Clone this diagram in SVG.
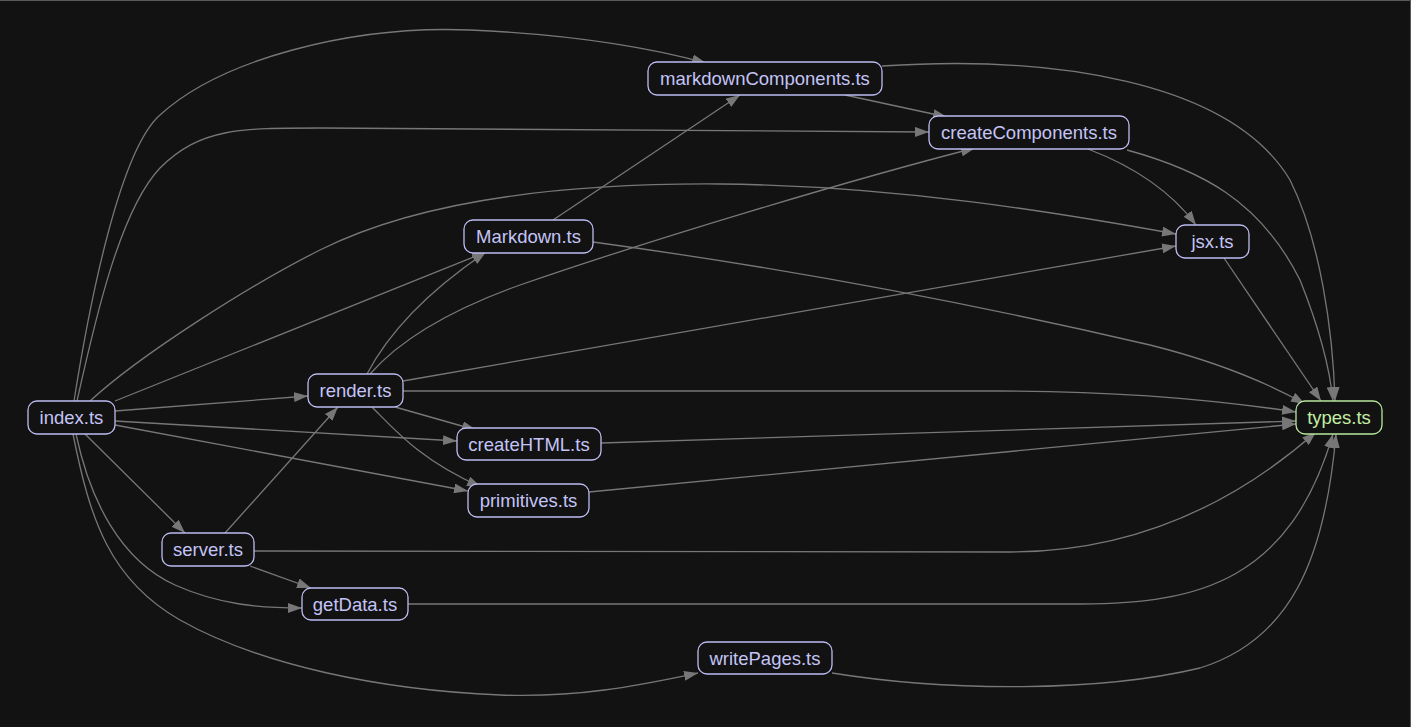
<svg xmlns="http://www.w3.org/2000/svg" width="1411" height="727" viewBox="0 0 1411 727">
<defs>
<marker id="ah" markerUnits="userSpaceOnUse" markerWidth="14" markerHeight="10" refX="14" refY="5" orient="auto"><path d="M0,0 L14,5 L0,10 z" fill="#777777"/></marker>
<style>
.n rect{fill:#121212;stroke:#bcbcf2;stroke-width:1.3}
.n text{fill:#c4c4f6;font-family:"Liberation Sans",Arial,sans-serif;font-size:18.5px;text-anchor:middle}
.t rect{stroke:#b8e6a0}
.t text{fill:#c2eea4}
#edges path{fill:none;stroke:#777777;stroke-width:1.3;marker-end:url(#ah)}
</style>
</defs>
<rect width="1411" height="727" fill="#121212"/>
<path d="M0,0.5 H1410.5 V727" fill="none" stroke="#5a5a5a" stroke-width="1"/>
<g id="edges">
<path d="M74,401 C90,300 120,150 160,115 C220,60 350,25 470,30 C560,34 640,45 706,63"/>
<path d="M77,401 C95,320 120,210 160,168 C200,128 240,128 320,128 L929,132"/>
<path d="M90,401 C140,355 250,285 320,250 C420,200 560,183 720,184 C900,186 1060,213 1176,234"/>
<path d="M115,401 L486,252"/>
<path d="M115,411 L308,396"/>
<path d="M115,421 L457,441"/>
<path d="M115,425 L468,491"/>
<path d="M85,434 L185,533"/>
<path d="M76,434 C90,500 120,560 175,585 C220,605 260,608 302,608"/>
<path d="M73,434 C90,520 110,580 180,620 C260,665 380,690 500,695 C580,698 640,685 698,673"/>
<path d="M367,374 C390,330 430,290 486,252"/>
<path d="M370,374 C400,340 450,310 520,285 C650,240 850,180 975,148"/>
<path d="M403,381 L1176,246"/>
<path d="M403,391 L1000,391 C1150,391 1250,405 1296,412"/>
<path d="M395,407 L476,430"/>
<path d="M372,407 C395,430 420,460 481,487"/>
<path d="M225,533 L338,407"/>
<path d="M250,566 L311,588"/>
<path d="M254,551 L1010,552 C1150,552 1250,490 1316,432"/>
<path d="M408,604 L1080,604 C1200,604 1290,580 1333,434"/>
<path d="M832,673 C950,692 1100,692 1200,668 C1290,640 1325,560 1336,434"/>
<path d="M553,220 L740,95"/>
<path d="M593,242 C800,270 1000,310 1150,345 C1230,365 1280,390 1305,404"/>
<path d="M845,95 L947,117"/>
<path d="M882,66 C1050,55 1230,80 1290,180 C1320,240 1333,330 1335,401"/>
<path d="M1088,149 C1130,165 1170,190 1196,225"/>
<path d="M1127,150 C1200,170 1260,200 1300,280 C1320,330 1330,370 1333,401"/>
<path d="M1224,258 L1321,401"/>
<path d="M601,443 L1296,421"/>
<path d="M589,492 L1296,424"/>
</g>
<g id="index" class="n"><rect x="28" y="401" width="87" height="33" rx="9"/><text x="71.5" y="424">index.ts</text></g>
<g id="render" class="n"><rect x="308" y="374" width="95" height="33" rx="9"/><text x="355.5" y="397">render.ts</text></g>
<g id="server" class="n"><rect x="162" y="533" width="92" height="33" rx="9"/><text x="208" y="556">server.ts</text></g>
<g id="getData" class="n"><rect x="302" y="588" width="106" height="32" rx="9"/><text x="355" y="610.5">getData.ts</text></g>
<g id="Markdown" class="n"><rect x="464" y="220" width="129" height="33" rx="9"/><text x="528.5" y="243">Markdown.ts</text></g>
<g id="createHTML" class="n"><rect x="457" y="428" width="144" height="32" rx="9"/><text x="529" y="450.5">createHTML.ts</text></g>
<g id="primitives" class="n"><rect x="468" y="484" width="121" height="33" rx="9"/><text x="528.5" y="507">primitives.ts</text></g>
<g id="writePages" class="n"><rect x="698" y="642" width="134" height="32" rx="9"/><text x="765" y="664.5">writePages.ts</text></g>
<g id="markdownComponents" class="n"><rect x="648" y="62" width="234" height="33" rx="9"/><text x="765" y="85">markdownComponents.ts</text></g>
<g id="createComponents" class="n"><rect x="929" y="116" width="200" height="33" rx="9"/><text x="1029" y="139">createComponents.ts</text></g>
<g id="jsx" class="n"><rect x="1176" y="225" width="73" height="33" rx="9"/><text x="1212.5" y="248">jsx.ts</text></g>
<g id="types" class="n t"><rect x="1296" y="401" width="86" height="33" rx="9"/><text x="1339" y="424">types.ts</text></g>
</svg>
